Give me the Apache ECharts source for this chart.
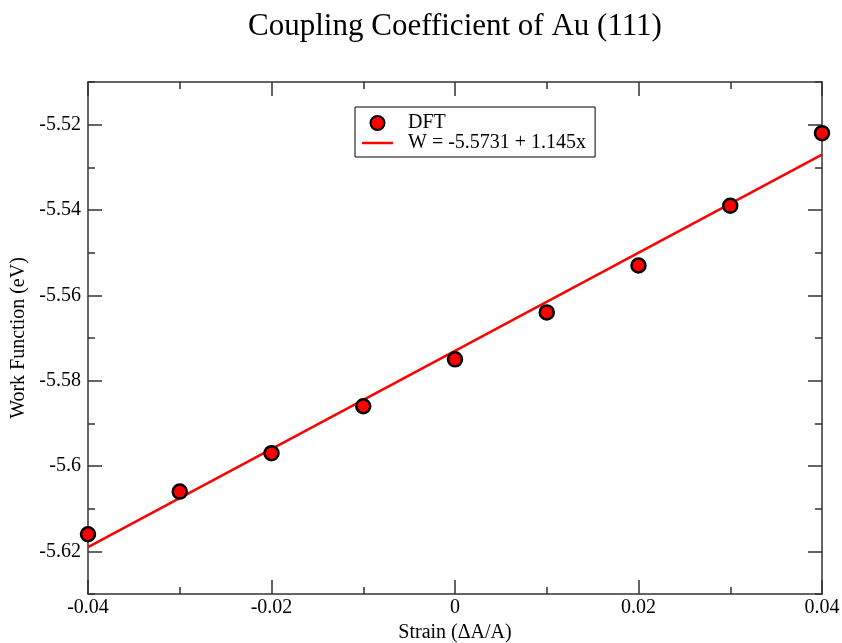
<!DOCTYPE html>
<html>
<head>
<meta charset="utf-8">
<title>Coupling Coefficient of Au (111)</title>
<script src="https://cdn.jsdelivr.net/npm/echarts@6/dist/echarts.min.js"></script>
<style>
  html, body { margin: 0; padding: 0; background: #fff; }
  #chart { width: 842px; height: 643px; }
</style>
</head>
<body>
<div id="chart"></div>
<script>
// values
var strain = [-0.04, -0.03, -0.02, -0.01, 0, 0.01, 0.02, 0.03, 0.04];
var workFunction = [-5.616, -5.606, -5.597, -5.586, -5.575, -5.564, -5.553, -5.539, -5.522];
// fitted line end points (W = -5.5731 + 1.145x)
var fitX = [-0.04, 0.04];
var fitY = [-5.619, -5.527];
var xTicks = [-0.04, -0.02, 0, 0.02, 0.04];
var yTicks = [-5.62, -5.6, -5.58, -5.56, -5.54, -5.52];
var fitName = 'W = -5.5731 + 1.145x';

var font = 'Liberation Serif';
var axisColor = '#333';

function fmt(v) {
	return String(parseFloat(Number(v).toFixed(2)));
}

// one axis with long ticks + labels, one with short ticks every 0.01
function makeAxes(dim, pos, labelled) {
	var range = dim === 'x' ? { min: -0.04, max: 0.04 } : { min: -5.63, max: -5.51 };
	var major = dim === 'x' ? xTicks : yTicks;
	var base = {
		type: 'value',
		position: pos,
		min: range.min,
		max: range.max,
		interval: 0.01,
		splitLine: { show: false }
	};
	var a = echarts.util.merge({
		axisLine: { show: true, onZero: false, lineStyle: { color: axisColor, width: 1.5 } },
		axisTick: { show: true, inside: true, length: 14, customValues: major, lineStyle: { color: axisColor, width: 1.5 } },
		axisLabel: {
			show: labelled,
			customValues: major,
			formatter: fmt,
			color: '#000',
			fontFamily: font,
			fontSize: 20,
			margin: dim === 'x' ? 4 : 7
		}
	}, base, true);
	var b = echarts.util.merge({
		axisLine: { show: false, onZero: false },
		axisTick: { show: true, inside: true, length: 7, lineStyle: { color: axisColor, width: 1.5 } },
		axisLabel: { show: false }
	}, base, true);
	if (labelled) {
		a.name = dim === 'x' ? 'Strain (\u0394A/A)' : 'Work Function (eV)';
		a.nameLocation = 'middle';
		a.nameGap = dim === 'x' ? 26 : 52;
		a.nameTextStyle = { color: '#000', fontFamily: font, fontSize: 20 };
	}
	return [a, b];
}

var chart = echarts.init(document.getElementById('chart'));

var option = {
	animation: false,
	backgroundColor: '#fff',
	title: {
		text: 'Coupling Coefficient of Au (111)',
		left: 450,
		top: 6,
		textAlign: 'center',
		textStyle: { color: '#000', fontFamily: font, fontSize: 31, fontWeight: 'normal' }
	},
	legend: {
		orient: 'vertical',
		left: 355,
		top: 107,
		padding: [6, 9, 4, 7],
		itemGap: 0,
		itemWidth: 31,
		itemHeight: 14,
		borderColor: '#000',
		borderWidth: 1,
		textStyle: { color: '#000', fontFamily: font, fontSize: 20, lineHeight: 20, padding: [0, 0, 0, 10] },
		data: [
			{ name: 'DFT', icon: 'circle' },
			{ name: fitName, icon: 'path://M0,0L31,0L31,2.5L0,2.5Z' }
		]
	},
	grid: { left: 88, right: 20, top: 82, bottom: 49, outerBoundsMode: 'none' },
	xAxis: makeAxes('x', 'bottom', true).concat(makeAxes('x', 'top', false)),
	yAxis: makeAxes('y', 'left', true).concat(makeAxes('y', 'right', false)),
	series: [
		{
			name: fitName,
			type: 'line',
			data: fitX.map(function (x, i) { return [x, fitY[i]]; }),
			symbol: 'none',
			lineStyle: { color: '#f00', width: 2.5 },
			itemStyle: { color: '#f00' },
			z: 2
		},
		{
			name: 'DFT',
			type: 'scatter',
			data: strain.map(function (x, i) { return [x, workFunction[i]]; }),
			symbol: 'circle',
			symbolSize: 14,
			clip: false,
			itemStyle: { color: '#f00', borderColor: '#000', borderWidth: 2.5, opacity: 1 },
			z: 3
		}
	]
};

chart.setOption(option);
</script>
</body>
</html>
